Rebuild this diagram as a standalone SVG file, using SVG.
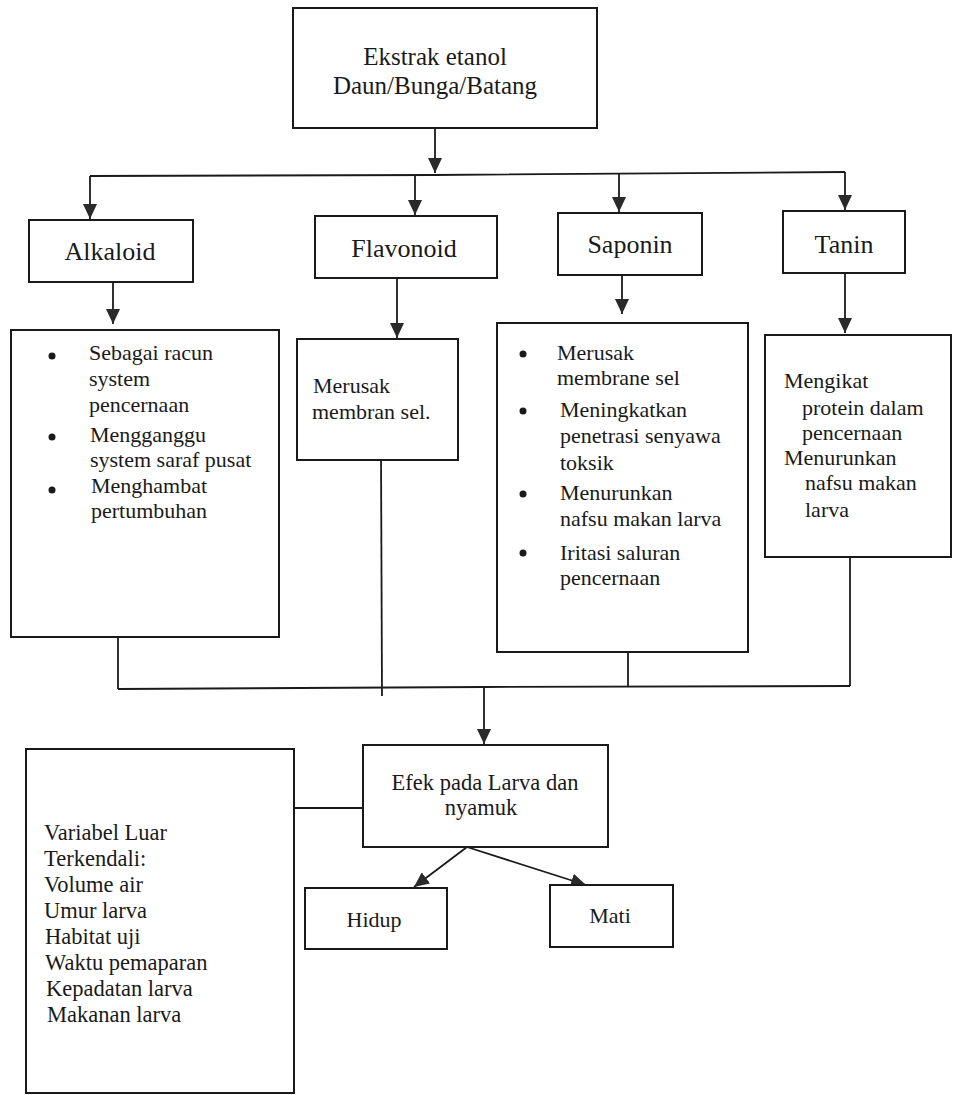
<svg xmlns="http://www.w3.org/2000/svg" width="954" height="1095" viewBox="0 0 954 1095" font-family="'Liberation Serif','Times New Roman',serif">
<style>
.box{fill:#fff;stroke:#1a1a1a;stroke-width:2}
.ln{fill:none;stroke:#1a1a1a;stroke-width:1.8}
.t{font-family:"Liberation Serif","Times New Roman",serif;fill:#1a1a1a}
.h{font-size:26px}
.b{font-size:22px}
.c{text-anchor:middle}
.dot{fill:#1a1a1a}
</style>
<defs>
<marker id="ad" markerUnits="userSpaceOnUse" markerWidth="16" markerHeight="14" viewBox="0 0 16 14" refX="15" refY="7" orient="auto">
<path d="M0,0 L15,7 L0,14 Z" fill="#2a2a2a"/>
</marker>
</defs>
<rect width="954" height="1095" fill="#fff"/>

<g id="connectors">
<line class="ln" x1="435" y1="128" x2="435" y2="173" marker-end="url(#ad)"/>
<polyline class="ln" points="90,176 435,175 845,172"/>
<line class="ln" x1="90" y1="176" x2="90" y2="219" marker-end="url(#ad)"/>
<line class="ln" x1="415" y1="175" x2="415" y2="215" marker-end="url(#ad)"/>
<line class="ln" x1="619" y1="174" x2="619" y2="212" marker-end="url(#ad)"/>
<line class="ln" x1="845" y1="172" x2="845" y2="210" marker-end="url(#ad)"/>
<line class="ln" x1="113" y1="282" x2="113" y2="324" marker-end="url(#ad)"/>
<line class="ln" x1="397" y1="278" x2="397" y2="338" marker-end="url(#ad)"/>
<line class="ln" x1="622" y1="275" x2="622" y2="314" marker-end="url(#ad)"/>
<line class="ln" x1="845" y1="273" x2="845" y2="333" marker-end="url(#ad)"/>
<line class="ln" x1="118" y1="637" x2="118" y2="689"/>
<line class="ln" x1="381" y1="452" x2="382" y2="696"/>
<line class="ln" x1="628" y1="652" x2="628" y2="687"/>
<line class="ln" x1="850" y1="557" x2="850" y2="686"/>
<polyline class="ln" points="118,689 484,687 850,686"/>
<line class="ln" x1="484" y1="687" x2="484" y2="744" marker-end="url(#ad)"/>
<line class="ln" x1="283" y1="808" x2="363" y2="808"/>
<line class="ln" x1="467" y1="847" x2="414" y2="887" marker-end="url(#ad)"/>
<line class="ln" x1="467" y1="847" x2="586" y2="885" marker-end="url(#ad)"/>
</g>

<g id="n-ekstrak">
<rect class="box" x="293" y="8" width="304" height="120"/>
<text class="t c" x="435" y="65" font-size="25">Ekstrak etanol</text>
<text class="t c" x="435" y="94" font-size="25">Daun/Bunga/Batang</text>
</g>

<g id="n-alkaloid">
<rect class="box" x="29" y="220" width="164" height="62"/>
<text class="t h c" x="110" y="260">Alkaloid</text>
</g>
<g id="n-flavonoid">
<rect class="box" x="315" y="216" width="182" height="62"/>
<text class="t h c" x="404" y="257">Flavonoid</text>
</g>
<g id="n-saponin">
<rect class="box" x="558" y="213" width="144" height="62"/>
<text class="t h c" x="630" y="253">Saponin</text>
</g>
<g id="n-tanin">
<rect class="box" x="783" y="211" width="122" height="62"/>
<text class="t h c" x="844" y="253">Tanin</text>
</g>

<g id="n-alkaloid-efek">
<rect class="box" x="11" y="330" width="268" height="307"/>
<circle class="dot" cx="52" cy="356" r="3.5"/>
<circle class="dot" cx="52" cy="437" r="3.5"/>
<circle class="dot" cx="52" cy="490" r="3.5"/>
<text class="t b" x="89" y="360">Sebagai racun</text>
<text class="t b" x="89" y="386">system</text>
<text class="t b" x="89" y="412">pencernaan</text>
<text class="t b" x="90" y="442">Mengganggu</text>
<text class="t b" x="90" y="467">system saraf pusat</text>
<text class="t b" x="91" y="493">Menghambat</text>
<text class="t b" x="91" y="518">pertumbuhan</text>
</g>

<g id="n-flavonoid-efek">
<rect class="box" x="297" y="339" width="161" height="121"/>
<text class="t b" x="313" y="393">Merusak</text>
<text class="t b" x="312" y="419">membran sel.</text>
</g>

<g id="n-saponin-efek">
<rect class="box" x="497" y="323" width="251" height="329"/>
<circle class="dot" cx="523" cy="354" r="3.5"/>
<circle class="dot" cx="523" cy="411" r="3.5"/>
<circle class="dot" cx="523" cy="494" r="3.5"/>
<circle class="dot" cx="523" cy="553" r="3.5"/>
<text class="t b" x="557" y="360">Merusak</text>
<text class="t b" x="557" y="385">membrane sel</text>
<text class="t b" x="560" y="417">Meningkatkan</text>
<text class="t b" x="560" y="443">penetrasi senyawa</text>
<text class="t b" x="560" y="470">toksik</text>
<text class="t b" x="560" y="500">Menurunkan</text>
<text class="t b" x="560" y="526">nafsu makan larva</text>
<text class="t b" x="560" y="560">Iritasi saluran</text>
<text class="t b" x="560" y="585">pencernaan</text>
</g>

<g id="n-tanin-efek">
<rect class="box" x="765" y="335" width="186" height="222"/>
<text class="t b" x="784" y="388">Mengikat</text>
<text class="t b" x="802" y="415">protein dalam</text>
<text class="t b" x="802" y="440">pencernaan</text>
<text class="t b" x="784" y="465">Menurunkan</text>
<text class="t b" x="805" y="490">nafsu makan</text>
<text class="t b" x="805" y="517">larva</text>
</g>

<g id="n-efek">
<rect class="box" x="363" y="745" width="245" height="102"/>
<text class="t c" x="485" y="790" font-size="22.5">Efek pada Larva dan</text>
<text class="t c" x="481" y="815" font-size="22.5">nyamuk</text>
</g>

<g id="n-variabel">
<rect class="box" x="26" y="749" width="268" height="344"/>
<text class="t" x="44" y="840" font-size="22.5">Variabel Luar</text>
<text class="t" x="44" y="866" font-size="22.5">Terkendali:</text>
<text class="t" x="44" y="892" font-size="22.5">Volume air</text>
<text class="t" x="44" y="918" font-size="22.5">Umur larva</text>
<text class="t" x="45" y="944" font-size="22.5">Habitat uji</text>
<text class="t" x="45" y="970" font-size="22.5">Waktu pemaparan</text>
<text class="t" x="46" y="996" font-size="22.5">Kepadatan larva</text>
<text class="t" x="47" y="1022" font-size="22.5">Makanan larva</text>
</g>

<g id="n-hidup">
<rect class="box" x="305" y="888" width="142" height="61"/>
<text class="t c" x="374" y="927" font-size="22">Hidup</text>
</g>
<g id="n-mati">
<rect class="box" x="550" y="885" width="123" height="62"/>
<text class="t c" x="610" y="923" font-size="22">Mati</text>
</g>
</svg>
